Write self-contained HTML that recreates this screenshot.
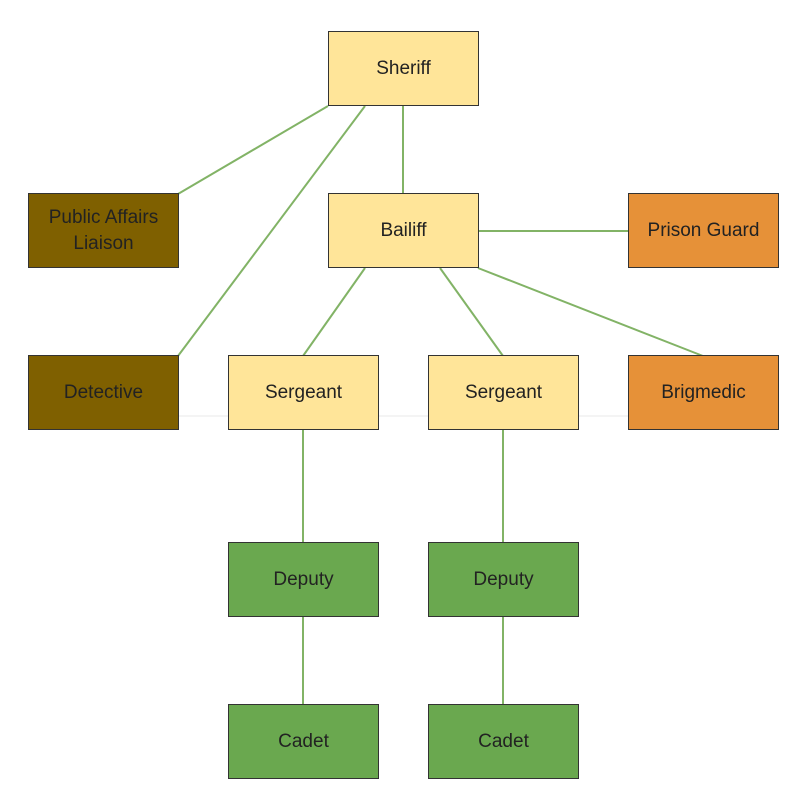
<!DOCTYPE html>
<html><head><style>
body{margin:0;background:#fff;}
.b{position:absolute;width:151px;height:75px;border:1px solid #333;box-sizing:border-box;display:flex;align-items:center;justify-content:center;text-align:center;font:19px "Liberation Sans",sans-serif;color:#222;line-height:26px;}
.y{background:#ffe599}.br{background:#7f6000}.o{background:#e69138}.g{background:#6aa84f}
</style></head><body>
<div style="position:relative;width:801px;height:802px;overflow:hidden">
<svg width="801" height="802" style="position:absolute;left:0;top:0">
<line x1="178" y1="416" x2="628" y2="416" stroke="#e8e8e8" stroke-width="1"/>
<g stroke="#82b366" stroke-width="2" fill="none">
<line x1="328" y1="106" x2="178" y2="194"/>
<line x1="365" y1="106" x2="178" y2="356"/>
<line x1="403" y1="106" x2="403" y2="194"/>
<line x1="478" y1="231" x2="628" y2="231"/>
<line x1="365" y1="268" x2="303" y2="356"/>
<line x1="440" y1="268" x2="503" y2="356"/>
<line x1="478" y1="268" x2="703" y2="356"/>
<line x1="303" y1="430" x2="303" y2="543"/>
<line x1="503" y1="430" x2="503" y2="543"/>
<line x1="303" y1="617" x2="303" y2="705"/>
<line x1="503" y1="617" x2="503" y2="705"/>
</g></svg>
<div class="b y" style="left:328px;top:31px">Sheriff</div>
<div class="b br" style="left:28px;top:193px">Public Affairs<br>Liaison</div>
<div class="b y" style="left:328px;top:193px">Bailiff</div>
<div class="b o" style="left:628px;top:193px">Prison Guard</div>
<div class="b br" style="left:28px;top:355px">Detective</div>
<div class="b y" style="left:228px;top:355px">Sergeant</div>
<div class="b y" style="left:428px;top:355px">Sergeant</div>
<div class="b o" style="left:628px;top:355px">Brigmedic</div>
<div class="b g" style="left:228px;top:542px">Deputy</div>
<div class="b g" style="left:428px;top:542px">Deputy</div>
<div class="b g" style="left:228px;top:704px">Cadet</div>
<div class="b g" style="left:428px;top:704px">Cadet</div>
</div>
</body></html>
